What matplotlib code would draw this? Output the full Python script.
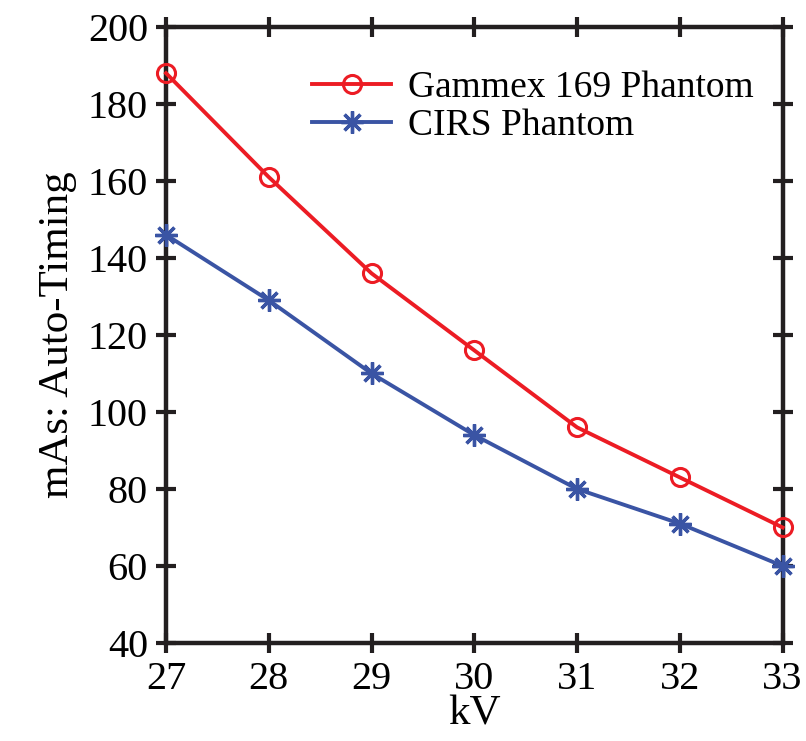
import matplotlib
matplotlib.use('Agg')
import matplotlib.pyplot as plt

# values
kv = [27, 28, 29, 30, 31, 32, 33]
gammex = [188, 161, 136, 116, 96, 83, 70]
cirs = [146, 129, 110, 94, 80, 71, 60]

plt.rcParams['font.family'] = ['Liberation Serif', 'DejaVu Serif']

fig = plt.figure(figsize=(8.06, 7.41), dpi=100)
ax = fig.add_axes([0.206, 0.1323, 0.765, 0.8313])

red = '#ec1c24'
blue = '#3a54a4'
ax.plot(kv, gammex, color=red, linewidth=2.8, marker='o', markersize=13,
        markerfacecolor='none', markeredgewidth=2.2, label='Gammex 169 Phantom',
        clip_on=False, zorder=3)
ax.plot(kv, cirs, color=blue, linewidth=2.8, marker=(8, 2, 0), markersize=16,
        markeredgewidth=2.4, label='CIRS Phantom', clip_on=False, zorder=3)

ax.set_xlim(27, 33)
ax.set_ylim(40, 200)
ax.set_xticks(kv)
ax.set_yticks(range(40, 201, 20))
ax.tick_params(direction='inout', length=14, width=3, labelsize=29,
               top=True, right=True, pad=6, color='#231f20')
for s in ax.spines.values():
    s.set_linewidth(3.2)
    s.set_color('#231f20')

ax.set_xlabel('kV', fontsize=31, labelpad=-2)
ax.set_ylabel('mAs: Auto-Timing', fontsize=31, labelpad=8)

ax.legend(loc='upper left', fontsize=27, frameon=False, handlelength=2.1,
          handletextpad=0.45, labelspacing=0.1, borderpad=0, borderaxespad=0,
          bbox_to_anchor=(0.237, 0.929))

plt.savefig('out.png', dpi=100)
